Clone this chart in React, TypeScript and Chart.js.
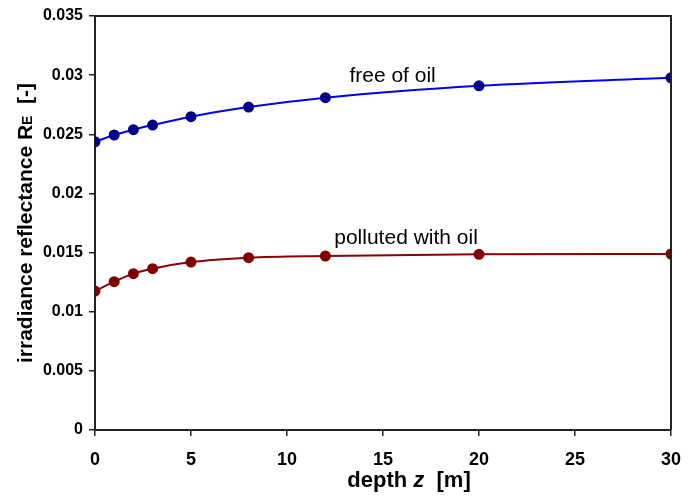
import React, { useEffect, useRef } from "react";
import { Chart, registerables } from "chart.js";

Chart.register(...registerables);

const depth = [0, 1, 2, 3, 5, 8, 12, 20, 30];
const freeOfOil = [0.02437, 0.02494, 0.02539, 0.02578, 0.02649, 0.0273, 0.02809, 0.0291, 0.02978];
const pollutedWithOil = [0.01175, 0.01254, 0.01322, 0.01364, 0.0142, 0.01457, 0.01471, 0.01485, 0.01488];
const seriesNames = ["free of oil", "polluted with oil"];
const labelDepth = [15.5, 16.2];
const labelValue = [0.0299, 0.0162];

const FONT = "'Liberation Sans', Arial, sans-serif";

const decorPlugin = {
  id: "decor",
  afterDraw(chart: any) {
    const { ctx, chartArea, scales } = chart;
    ctx.save();
    // top and right border
    ctx.strokeStyle = "#222";
    ctx.lineWidth = 2;
    ctx.beginPath();
    ctx.moveTo(chartArea.left, chartArea.top);
    ctx.lineTo(chartArea.right, chartArea.top);
    ctx.lineTo(chartArea.right, chartArea.bottom);
    ctx.stroke();

    // series labels
    ctx.fillStyle = "#000";
    ctx.font = `21px ${FONT}`;
    ctx.textAlign = "center";
    ctx.textBaseline = "middle";
    seriesNames.forEach((name, i) => {
      ctx.fillText(name, scales.x.getPixelForValue(labelDepth[i]), scales.y.getPixelForValue(labelValue[i]));
    });

    // y axis title
    const big = `bold 21px ${FONT}`;
    const small = `bold 14px ${FONT}`;
    const parts: [string, string][] = [
      ["irradiance reflectance R", big],
      ["E", small],
      ["  [-]", big],
    ];
    let total = 0;
    parts.forEach(([t, f]) => {
      ctx.font = f;
      total += ctx.measureText(t).width;
    });
    ctx.translate(26, (chartArea.top + chartArea.bottom) / 2);
    ctx.rotate(-Math.PI / 2);
    ctx.textAlign = "left";
    ctx.textBaseline = "middle";
    let x = -total / 2;
    parts.forEach(([t, f]) => {
      ctx.font = f;
      ctx.fillText(t, x, f === small ? 2 : 0);
      x += ctx.measureText(t).width;
    });
    ctx.setTransform(1, 0, 0, 1, 0, 0);

    // x axis title
    const xparts: [string, string][] = [
      ["depth ", `bold 22px ${FONT}`],
      ["z", `italic bold 22px ${FONT}`],
      ["  [m]", `bold 22px ${FONT}`],
    ];
    let xt = 0;
    xparts.forEach(([t, f]) => {
      ctx.font = f;
      xt += ctx.measureText(t).width;
    });
    let xx = 409 - xt / 2;
    ctx.textBaseline = "alphabetic";
    xparts.forEach(([t, f]) => {
      ctx.font = f;
      ctx.fillText(t, xx, 487);
      xx += ctx.measureText(t).width;
    });
    ctx.restore();
  },
};

export default function App() {
  const ref = useRef<HTMLCanvasElement>(null);
  useEffect(() => {
    if (!ref.current) return;
    const chart = new Chart(ref.current, {
      type: "line",
      data: {
        datasets: [
          {
            label: seriesNames[0],
            data: depth.map((d, i) => ({ x: d, y: freeOfOil[i] })),
            borderColor: "#0000EE",
            backgroundColor: "#00008B",
            pointBackgroundColor: "#00008B",
            pointBorderColor: "#00008B",
            pointRadius: 4.5,
            borderWidth: 2,
            cubicInterpolationMode: "monotone",
          },
          {
            label: seriesNames[1],
            data: depth.map((d, i) => ({ x: d, y: pollutedWithOil[i] })),
            borderColor: "#8B0000",
            backgroundColor: "#800000",
            pointBackgroundColor: "#800000",
            pointBorderColor: "#800000",
            pointRadius: 4.5,
            borderWidth: 2,
            cubicInterpolationMode: "monotone",
          },
        ],
      },
      options: {
        responsive: false,
        animation: false,
        layout: { padding: { top: 16, right: 26, left: 0, bottom: 0 } },
        plugins: { legend: { display: false }, tooltip: { enabled: false } },
        scales: {
          x: {
            type: "linear",
            min: 0,
            max: 30,
            ticks: { stepSize: 5, color: "#000", font: { family: FONT, size: 18, weight: "bold" }, padding: 13, maxRotation: 0 },
            grid: { drawOnChartArea: false, tickLength: 6, color: "#222", lineWidth: 1.5 },
            border: { display: true, color: "#222", width: 2 },
            afterFit: (s: any) => { s.height = 67; },
          },
          y: {
            type: "linear",
            min: 0,
            max: 0.035,
            ticks: {
              stepSize: 0.005,
              color: "#000",
              font: { family: FONT, size: 16, weight: "bold" },
              padding: 6,
              callback: (v: any) => String(+Number(v).toFixed(3)),
            },
            grid: { drawOnChartArea: false, tickLength: 6, color: "#222", lineWidth: 1.5 },
            border: { display: true, color: "#222", width: 2 },
            afterFit: (s: any) => { s.width = 95; },
          },
        },
      },
      plugins: [decorPlugin],
    } as any);
    return () => chart.destroy();
  }, []);
  return (
    <div style={{ position: "fixed", left: 0, top: 0, width: 697, height: 497, background: "#fff" }}>
      <canvas ref={ref} width={697} height={497} />
    </div>
  );
}
